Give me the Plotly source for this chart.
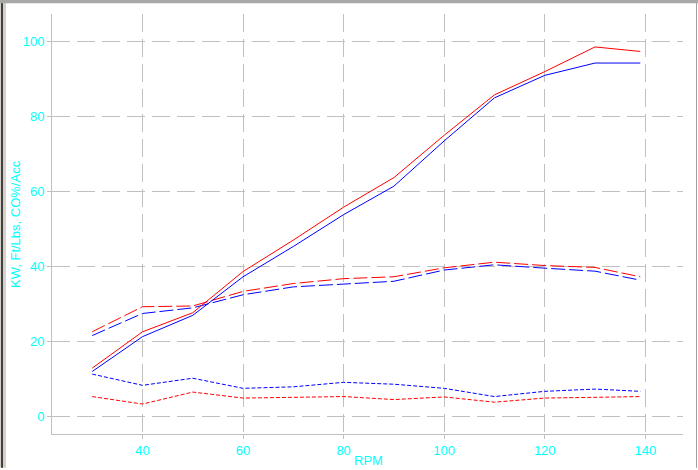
import plotly.graph_objects as go

rpm = [30, 40, 50, 60, 70, 80, 90, 100, 110, 120, 130, 139]
red_solid = [12.8, 22.5, 27.6, 38.6, 47.0, 55.8, 63.7, 75.0, 85.8, 92.0, 98.6, 97.4]
blue_solid = [11.9, 21.2, 26.9, 37.2, 45.3, 53.8, 61.4, 73.5, 85.0, 91.0, 94.3, 94.3]
red_dash = [22.5, 29.2, 29.4, 33.3, 35.4, 36.7, 37.2, 39.6, 41.1, 40.2, 39.7, 37.2]
blue_dash = [21.5, 27.4, 28.9, 32.4, 34.5, 35.3, 36.0, 39.0, 40.4, 39.5, 38.7, 36.3]
blue_dot = [11.2, 8.2, 10.1, 7.4, 7.8, 9.0, 8.5, 7.4, 5.2, 6.6, 7.2, 6.6]
red_dot = [5.2, 3.2, 6.4, 4.8, 5.0, 5.2, 4.4, 5.1, 3.7, 4.8, 5.0, 5.2]

x_ticks = [40, 60, 80, 100, 120, 140]
y_ticks = [0, 20, 40, 60, 80, 100]

W, H = 698, 470
L, R, T, B = 52, 15, 14, 34
PW, PH = W - L - R, H - T - B


def px(x):
    return (x - L) / PW


def py(y):
    return (H - B - y) / PH


RED = "#FF0000"
BLUE = "#0000FF"
CYAN = "#00FFFF"
GRID = "#C0C0C0"
FONT = "Liberation Sans, Arial, sans-serif"

fig = go.Figure()
series = [
    (red_dot, RED, "4px,2px"),
    (blue_dot, BLUE, "4px,2px"),
    (blue_dash, BLUE, "14px,4px"),
    (red_dash, RED, "14px,4px"),
    (blue_solid, BLUE, "solid"),
    (red_solid, RED, "solid"),
]
for ys, col, dash in series:
    fig.add_trace(go.Scatter(x=rpm, y=ys, mode="lines",
                             line=dict(color=col, width=1, dash=dash),
                             showlegend=False, hoverinfo="skip"))

axis_common = dict(
    showgrid=True, gridcolor=GRID, gridwidth=1, griddash="18px,7px",
    showline=True, linecolor=GRID, linewidth=1, mirror=False,
    zeroline=False, ticks="outside", ticklen=4, tickcolor=GRID,
    tickfont=dict(family=FONT, size=13, color=CYAN),
)

fig.update_xaxes(range=[22, 147.5], tickvals=x_ticks, **axis_common)
fig.update_yaxes(range=[-4.8, 107.4], tickvals=y_ticks, **axis_common)

shapes = [
    # window chrome: left border
    dict(type="rect", xref="paper", yref="paper", x0=px(0), x1=px(6), y0=py(H), y1=py(0),
         fillcolor="#D4D0C8", line=dict(width=0), layer="above"),
    dict(type="rect", xref="paper", yref="paper", x0=px(1), x1=px(3), y0=py(H), y1=py(0),
         fillcolor="#404040", line=dict(width=0), layer="above"),
    # top bar
    dict(type="rect", xref="paper", yref="paper", x0=px(0), x1=px(W), y0=py(3.3), y1=py(0),
         fillcolor="#A8A8A8", line=dict(width=0), layer="above"),
    # right border line
    dict(type="rect", xref="paper", yref="paper", x0=px(696), x1=px(697), y0=py(H), y1=py(3),
         fillcolor="#A0A0A0", line=dict(width=0), layer="above"),
]

annotations = [
    dict(text="RPM", xref="paper", yref="paper", x=px(368), y=py(463),
         xanchor="center", yanchor="middle", showarrow=False,
         font=dict(family=FONT, size=13, color=CYAN)),
    dict(text="KW, Ft/Lbs, CO%/Acc", xref="paper", yref="paper", x=px(15), y=py(225),
         xanchor="center", yanchor="middle", textangle=-90, showarrow=False,
         font=dict(family=FONT, size=13, color=CYAN)),
]

fig.update_layout(
    width=W, height=H, autosize=False,
    margin=dict(l=L, r=R, t=T, b=B, pad=0),
    paper_bgcolor="white", plot_bgcolor="white",
    shapes=shapes, annotations=annotations,
    showlegend=False,
)

fig.write_html(
    "out.html",
    config={"displayModeBar": False},
    post_script="document.body.style.margin='0';document.body.style.padding='0';"
                "document.documentElement.style.overflow='hidden';",
)
